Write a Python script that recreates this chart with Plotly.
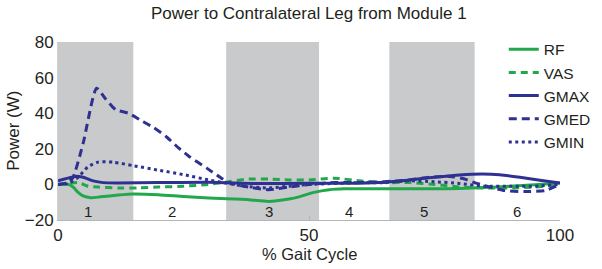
import plotly.graph_objects as go

# ---- data ----
rf_x = [0, 2, 3, 4, 5, 6.5, 8.5, 12, 15, 20, 25, 30, 35, 38, 42, 46, 48, 51, 54, 57, 60, 65, 70, 75, 80, 85, 90, 95, 100]
rf_y = [0, 0, -1.5, -4.5, -6.5, -7.5, -7, -6, -5.4, -5.8, -6.8, -7.6, -8.2, -8.6, -9.6, -8.2, -7, -4.5, -3, -2.5, -2.5, -2.5, -2.5, -2.5, -2.3, -1.8, -1, -0.2, 0.8]

vas_x = [0, 2, 4, 6, 8, 12, 16, 20, 25, 30, 34, 38, 42, 46, 50, 55, 60, 65, 70, 75, 80, 85, 90, 95, 100]
vas_y = [0, 0.5, 1, -1, -1.5, -2, -2, -1.5, -1, 0, 1.5, 3, 3, 2.5, 2.5, 3.5, 2, 1, 1, 0, -1.5, -2, -2, -1.5, 0]

gmax_x = [0, 2, 3.5, 5, 7, 9, 12, 20, 30, 40, 50, 60, 65, 70, 75, 80, 84.5, 88, 92, 96, 100]
gmax_y = [2, 3.5, 4.5, 4, 2, 1, 0.8, 1, 1.2, 0.5, 0.6, 0.7, 1.2, 2.5, 4, 5.3, 5.8, 5.4, 4, 2.3, 0.8]

gmed_x = [0, 2, 3, 5, 7.7, 9.5, 11.5, 14, 16.5, 19, 21.7, 24, 26, 29.7, 32.3, 34, 38, 42, 46, 50, 55, 60, 65, 70, 74, 78, 81, 83, 86, 89, 93, 97, 100]
gmed_y = [0, 1, 4, 23, 54, 48, 42, 40, 36, 32, 26.5, 20.5, 16, 9, 4, 1, -1.5, -3, -1.5, 0, 1, 1, 1.5, 2.5, 4, 4.5, 3, 1, -1.5, -3.5, -4, -3.5, 0]

gmin_x = [0, 2, 4, 6, 8, 11, 15, 20, 25, 30, 33, 37, 42, 46, 50, 55, 60, 65, 70, 75, 80, 85, 90, 95, 100]
gmin_y = [0, 0.5, 4, 10, 12.5, 12.5, 10.5, 8, 5.5, 2.5, 1, -1, -2, -1, 0, 0.5, 1, 1, 2, 1.5, 0.5, -1, -1, -1, 0]

band_starts = [0, 33.5, 66]
band_ends = [15, 52, 83]
phase_labels = ["1", "2", "3", "4", "5", "6"]
phase_x = [6, 22.7, 42, 58, 73, 91.5]
phase_y = -15.5

x_ticks = [0, 50, 100]
y_ticks = [-20, 0, 20, 40, 60, 80]

GREEN = "#22a84a"
BLUE = "#2e3192"
FONT = "Liberation Sans, Arial, Helvetica, sans-serif"
TXT = "#231f20"

fig = go.Figure()
series = [
    ("RF", rf_x, rf_y, GREEN, "solid"),
    ("VAS", vas_x, vas_y, GREEN, "7px,5px"),
    ("GMAX", gmax_x, gmax_y, BLUE, "solid"),
    ("GMED", gmed_x, gmed_y, BLUE, "8px,5px"),
    ("GMIN", gmin_x, gmin_y, BLUE, "3px,3.5px"),
]
for name, xs, ys, col, dash in series:
    fig.add_trace(go.Scatter(x=xs, y=ys, mode="lines", name=name,
                             line=dict(color=col, width=3, dash=dash, shape="spline", smoothing=0.6)))

for s, e in zip(band_starts, band_ends):
    fig.add_shape(type="rect", xref="x", yref="y", x0=s, x1=e, y0=-20, y1=80,
                  fillcolor="#c9cacc", line=dict(width=0), layer="below")

for lab, px in zip(phase_labels, phase_x):
    fig.add_annotation(x=px, y=phase_y, text=lab, showarrow=False,
                       font=dict(size=15, color=TXT, family=FONT))

# axis titles as paper-anchored annotations
fig.add_annotation(text="Power (W)", textangle=-90, xref="paper", yref="paper",
                   x=-0.09, y=0.5, xanchor="center", yanchor="middle", showarrow=False,
                   font=dict(size=17, color=TXT, family=FONT))
fig.add_annotation(text="% Gait Cycle", xref="paper", yref="paper",
                   x=0.5, y=-0.19, xanchor="center", yanchor="middle", showarrow=False,
                   font=dict(size=16.5, color=TXT, family=FONT))

fig.update_layout(
    width=602, height=269,
    margin=dict(l=58, r=42, t=42, b=49, autoexpand=False),
    paper_bgcolor="white", plot_bgcolor="white",
    font=dict(family=FONT, color=TXT, size=16),
    title=dict(text="Power to Contralateral Leg from Module 1", x=0.513, xanchor="center",
               y=1 - 13 / 269, yanchor="middle", font=dict(size=17, family=FONT, color=TXT)),
    showlegend=True,
    legend=dict(x=0.888, y=1.052, xanchor="left", yanchor="top", bgcolor="rgba(0,0,0,0)",
                font=dict(size=15.5, family=FONT, color=TXT), tracegroupgap=0,
                itemwidth=30),
    xaxis=dict(range=[0, 100], tickvals=x_ticks, showgrid=False, zeroline=False, automargin=False,
               showline=True, linecolor="#b5b5b5", linewidth=1, ticks="inside", ticklen=4,
               tickcolor="#b5b5b5", tickfont=dict(size=17), ticklabelstandoff=0),
    yaxis=dict(range=[-20, 80], tickvals=y_ticks, showgrid=False, zeroline=False, automargin=False,
               showline=True, linecolor="#d0d0d0", linewidth=1, ticks="", tickfont=dict(size=17)),
)

fig.write_html("out.html", config={"displayModeBar": False},
               post_script="document.body.style.margin='0';document.body.style.overflow='hidden';")
